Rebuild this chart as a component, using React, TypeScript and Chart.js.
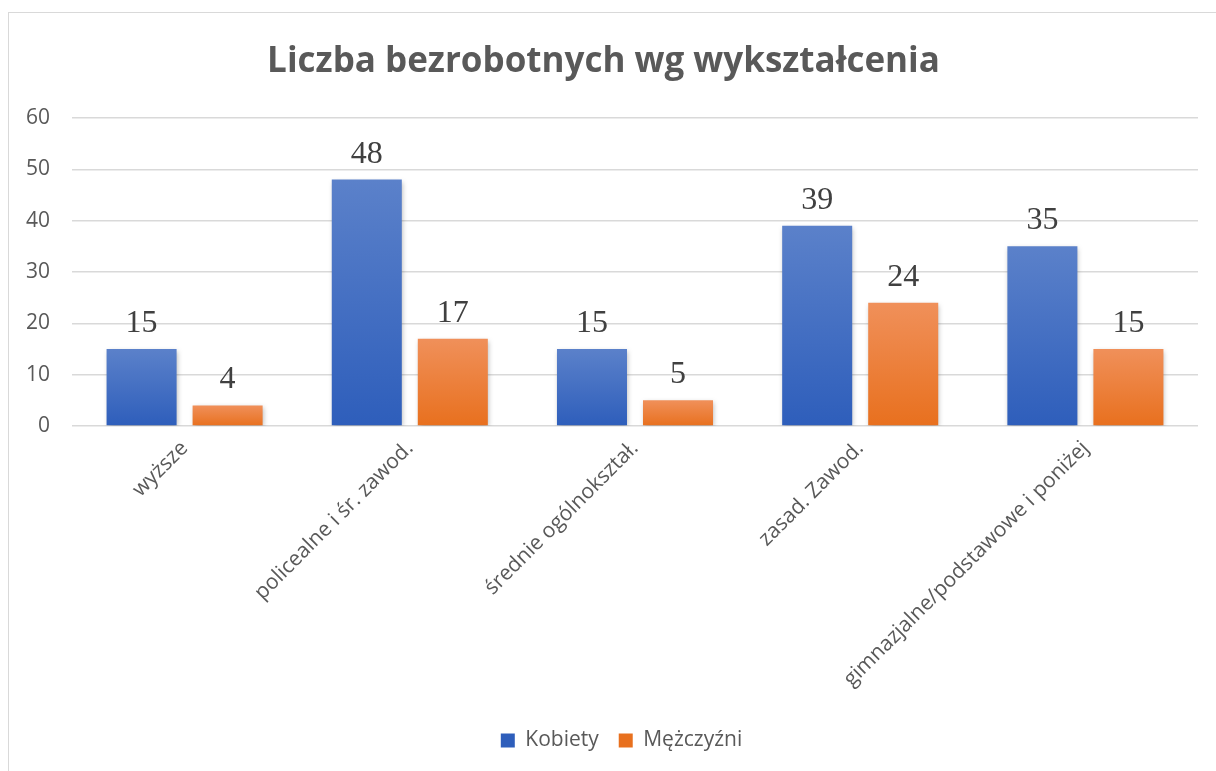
import React, { useEffect, useRef } from "react";
import { Chart, registerables } from "chart.js";

Chart.register(...registerables);

const categories = [
  "wyższe",
  "policealne i śr. zawod.",
  "średnie ogólnokształ.",
  "zasad. Zawod.",
  "gimnazjalne/podstawowe i poniżej",
];
const kobiety = [15, 48, 15, 39, 35];
const mezczyzni = [4, 17, 5, 24, 15];
const seriesNames = ["Kobiety", "Mężczyźni"];
const titleText = "Liczba bezrobotnych wg wykształcenia";

const blueTop = "#5b81ca";
const blueBottom = "#2e5ebb";
const orangeTop = "#f0905a";
const orangeBottom = "#e8701e";

const FONT = "'Open Sans', Lato, sans-serif";

function gradientFor(top: string, bottom: string) {
  return (ctx: any) => {
    const chart = ctx.chart;
    const ys = chart.scales && chart.scales.y;
    if (!ys || ctx.type !== "data") return bottom;
    const v = ctx.raw as number;
    const y0 = ys.getPixelForValue(v);
    const y1 = ys.getPixelForValue(0);
    if (!isFinite(y0) || !isFinite(y1) || y0 === y1) return bottom;
    const g = chart.ctx.createLinearGradient(0, y0, 0, y1);
    g.addColorStop(0, top);
    g.addColorStop(1, bottom);
    return g;
  };
}

const shadowPlugin = {
  id: "barShadow",
  beforeDatasetsDraw(chart: any) {
    const c = chart.ctx;
    c.save();
    c.shadowColor = "rgba(0,0,0,0.28)";
    c.shadowBlur = 5;
    c.shadowOffsetX = 1;
    c.shadowOffsetY = 2;
  },
  afterDatasetsDraw(chart: any) {
    chart.ctx.restore();
  },
};

const legendShiftPlugin = {
  id: "legendShift",
  afterLayout(chart: any) {
    if (chart.legend) {
      chart.legend.left += 18;
      chart.legend.right += 18;
    }
  },
};

const labelPlugin = {
  id: "valueLabels",
  afterDatasetsDraw(chart: any) {
    const c = chart.ctx;
    c.save();
    c.font = "32px 'Liberation Serif', 'Times New Roman', serif";
    c.fillStyle = "#404040";
    c.textAlign = "center";
    c.textBaseline = "alphabetic";
    chart.data.datasets.forEach((ds: any, di: number) => {
      const meta = chart.getDatasetMeta(di);
      meta.data.forEach((el: any, i: number) => {
        c.fillText(String(ds.data[i]), el.x, el.y - 17);
      });
    });
    c.restore();
  },
};

export default function App() {
  const ref = useRef<HTMLCanvasElement | null>(null);
  useEffect(() => {
    if (!ref.current) return;
    const chart = new Chart(ref.current, {
      type: "bar",
      data: {
        labels: categories,
        datasets: [
          {
            label: seriesNames[0],
            data: kobiety,
            backgroundColor: gradientFor(blueTop, blueBottom),
            categoryPercentage: 0.764,
            barPercentage: 0.814,
          },
          {
            label: seriesNames[1],
            data: mezczyzni,
            backgroundColor: gradientFor(orangeTop, orangeBottom),
            categoryPercentage: 0.764,
            barPercentage: 0.814,
          },
        ],
      },
      plugins: [shadowPlugin, labelPlugin, legendShiftPlugin],
      options: {
        animation: false,
        responsive: false,
        maintainAspectRatio: false,
        layout: { padding: { left: 0, right: 18, top: 0, bottom: 10 } },
        scales: {
          x: {
            grid: { display: false, drawTicks: false },
            border: { display: false },
            ticks: {
              minRotation: 45,
              maxRotation: 45,
              padding: 10,
              color: "#595959",
              font: { family: FONT, size: 21 },
            },
            afterFit(scale: any) {
              scale.height = 284;
            },
          },
          y: {
            min: 0,
            max: 60,
            ticks: {
              stepSize: 10,
              padding: 22,
              color: "#595959",
              font: { family: FONT, size: 21 },
            },
            grid: { color: "#d9d9d9", lineWidth: 1.5, drawTicks: false },
            border: { display: false },
            afterFit(scale: any) {
              scale.width = 63;
            },
          },
        },
        plugins: {
          title: {
            display: true,
            text: titleText,
            color: "#595959",
            font: { family: FONT, size: 35, weight: "bold" },
            padding: { top: 28, bottom: 35 },
          },
          legend: {
            position: "bottom",
            labels: {
              boxWidth: 14,
              boxHeight: 14,
              padding: 20,
              color: "#595959",
              font: { family: FONT, size: 21 },
              generateLabels(chart: any) {
                const items = Chart.defaults.plugins.legend.labels.generateLabels(chart);
                const fills = [blueBottom, orangeBottom];
                items.forEach((it: any, i: number) => {
                  it.fillStyle = fills[i];
                  it.strokeStyle = fills[i];
                  it.lineWidth = 0;
                });
                return items;
              },
            },
          },
          tooltip: { enabled: false },
        },
      } as any,
    });
    return () => chart.destroy();
  }, []);

  return (
    <div
      style={{
        position: "absolute",
        left: 8,
        top: 12,
        width: 1208,
        height: 770,
        border: "1px solid #d9d9d9",
        background: "#fff",
      }}
    >
      <canvas ref={ref} width={1207} height={758} style={{ display: "block" }} />
    </div>
  );
}
